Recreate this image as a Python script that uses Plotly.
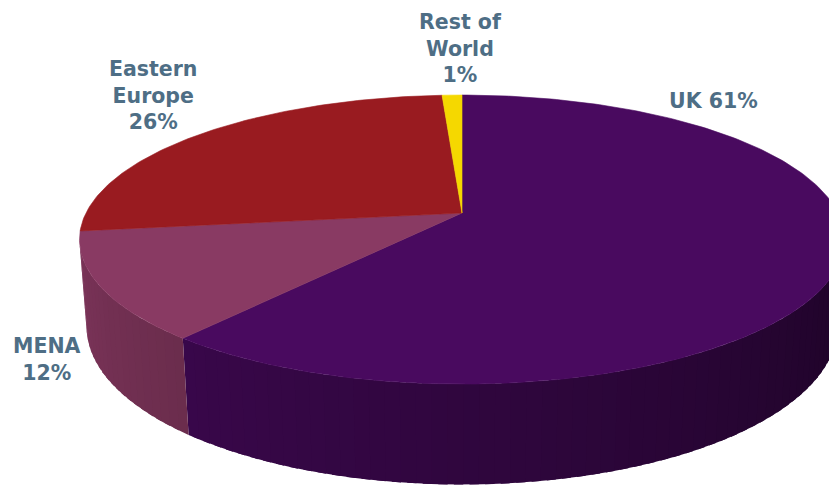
import numpy as np
import plotly.graph_objects as go

# ---------------- data ----------------
regions = ["UK", "MENA", "Eastern Europe", "Rest of World"]
shares = [61, 12, 26, 1]
label_text = ["UK 61%", "MENA<br>12%", "Eastern<br>Europe<br>26%", "Rest of<br>World<br>1%"]

# ---------------- style ----------------
top_colors = ["#490a5f", "#893a63", "#991b20", "#f5d800"]
label_color = "#4e6e85"
# label centres in pixels of the page
label_px = [(713, 101), (47, 359), (153, 96), (460, 48)]

PAGE_W, PAGE_H = 837, 487
OFF = 8                      # default body margin of the page
W, H = PAGE_W - OFF, PAGE_H - OFF
SCALE = 376.0                # px per pie radius
CX, CY = 462.0 - OFF, 213.0 - OFF  # figure-pixel position of the pie centre
TILT = np.radians(21.8)
DIST = 5.05
THICK = 0.249


def project(x, y, z):
    c, s = np.cos(TILT), np.sin(TILT)
    v = y * c + z * s
    w = z * c - y * s
    return DIST * x / (DIST + w), DIST * v / (DIST + w)


def rim(theta, y):
    return project(np.sin(theta), y, np.cos(theta))


def hex_to_rgb(h):
    h = h.lstrip("#")
    return tuple(int(h[i:i + 2], 16) for i in (0, 2, 4))


def shade(hexcol, f):
    r, g, b = hex_to_rgb(hexcol)
    return f"rgb({int(r * f)},{int(g * f)},{int(b * f)})"


total = float(sum(shares))
bounds = np.concatenate([[0.0], np.cumsum(shares) / total * 2 * np.pi])

fig = go.Figure()

# visible range of the side wall
cvis = -1.0 / (DIST * np.cos(TILT))
vis_lo = np.arccos(cvis)
vis_hi = 2 * np.pi - vis_lo

# ---- side walls (strips overlap slightly so no seams show) ----
for i, name in enumerate(regions):
    a0, a1 = max(bounds[i], vis_lo), min(bounds[i + 1], vis_hi)
    if a1 <= a0:
        continue
    n = max(1, int(np.ceil(np.degrees(a1 - a0) / 2.0)))
    edges = np.linspace(a0, a1, n + 1)
    step = edges[1] - edges[0]
    for k, (ta, tb) in enumerate(zip(edges[:-1], edges[1:])):
        tm = 0.5 * (ta + tb)
        f = 0.42 + 0.48 * (tm - vis_lo) / (vis_hi - vis_lo)
        col = shade(top_colors[i], f)
        tb2 = tb + (0.6 * step if k < n - 1 else 0.0)
        tt = np.linspace(ta, tb2, 4)
        xu, yu = rim(tt, 0.0)
        xl, yl = rim(tt[::-1], -THICK)
        xs = np.concatenate([xu, xl, xu[:1]])
        ys = np.concatenate([yu, yl, yu[:1]])
        fig.add_trace(go.Scatter(
            x=xs, y=ys, mode="lines", fill="toself", fillcolor=col,
            line=dict(color=col, width=0), hoverinfo="skip", showlegend=False))

# ---- top face ----
for i, name in enumerate(regions):
    th = np.linspace(bounds[i], bounds[i + 1], max(3, int(shares[i] * 4)))
    px, py = rim(th, 0.0)
    ox, oy = project(0.0, 0.0, 0.0)
    xs = np.concatenate([[ox], px, [ox]])
    ys = np.concatenate([[oy], py, [oy]])
    fig.add_trace(go.Scatter(
        x=xs, y=ys, mode="lines", fill="toself", fillcolor=top_colors[i],
        line=dict(color=top_colors[i], width=0.6), name=name,
        hovertemplate=f"{name}: {shares[i]}%<extra></extra>", showlegend=False))

# ---- labels ----
for txt, (lx, ly) in zip(label_text, label_px):
    fig.add_annotation(
        x=(lx - OFF) / W, y=1 - (ly - OFF) / H, xref="paper", yref="paper",
        text=txt, showarrow=False, xanchor="center", yanchor="middle",
        align="center",
        font=dict(family="DejaVu Sans", size=20.5, color=label_color, weight="bold"))

fig.update_layout(
    width=W, height=H,
    margin=dict(l=0, r=0, t=0, b=0),
    paper_bgcolor="white", plot_bgcolor="white",
    xaxis=dict(range=[-CX / SCALE, (W - CX) / SCALE], visible=False, fixedrange=True),
    yaxis=dict(range=[-(H - CY) / SCALE, CY / SCALE], visible=False, fixedrange=True),
)

fig.write_html("out.html")
